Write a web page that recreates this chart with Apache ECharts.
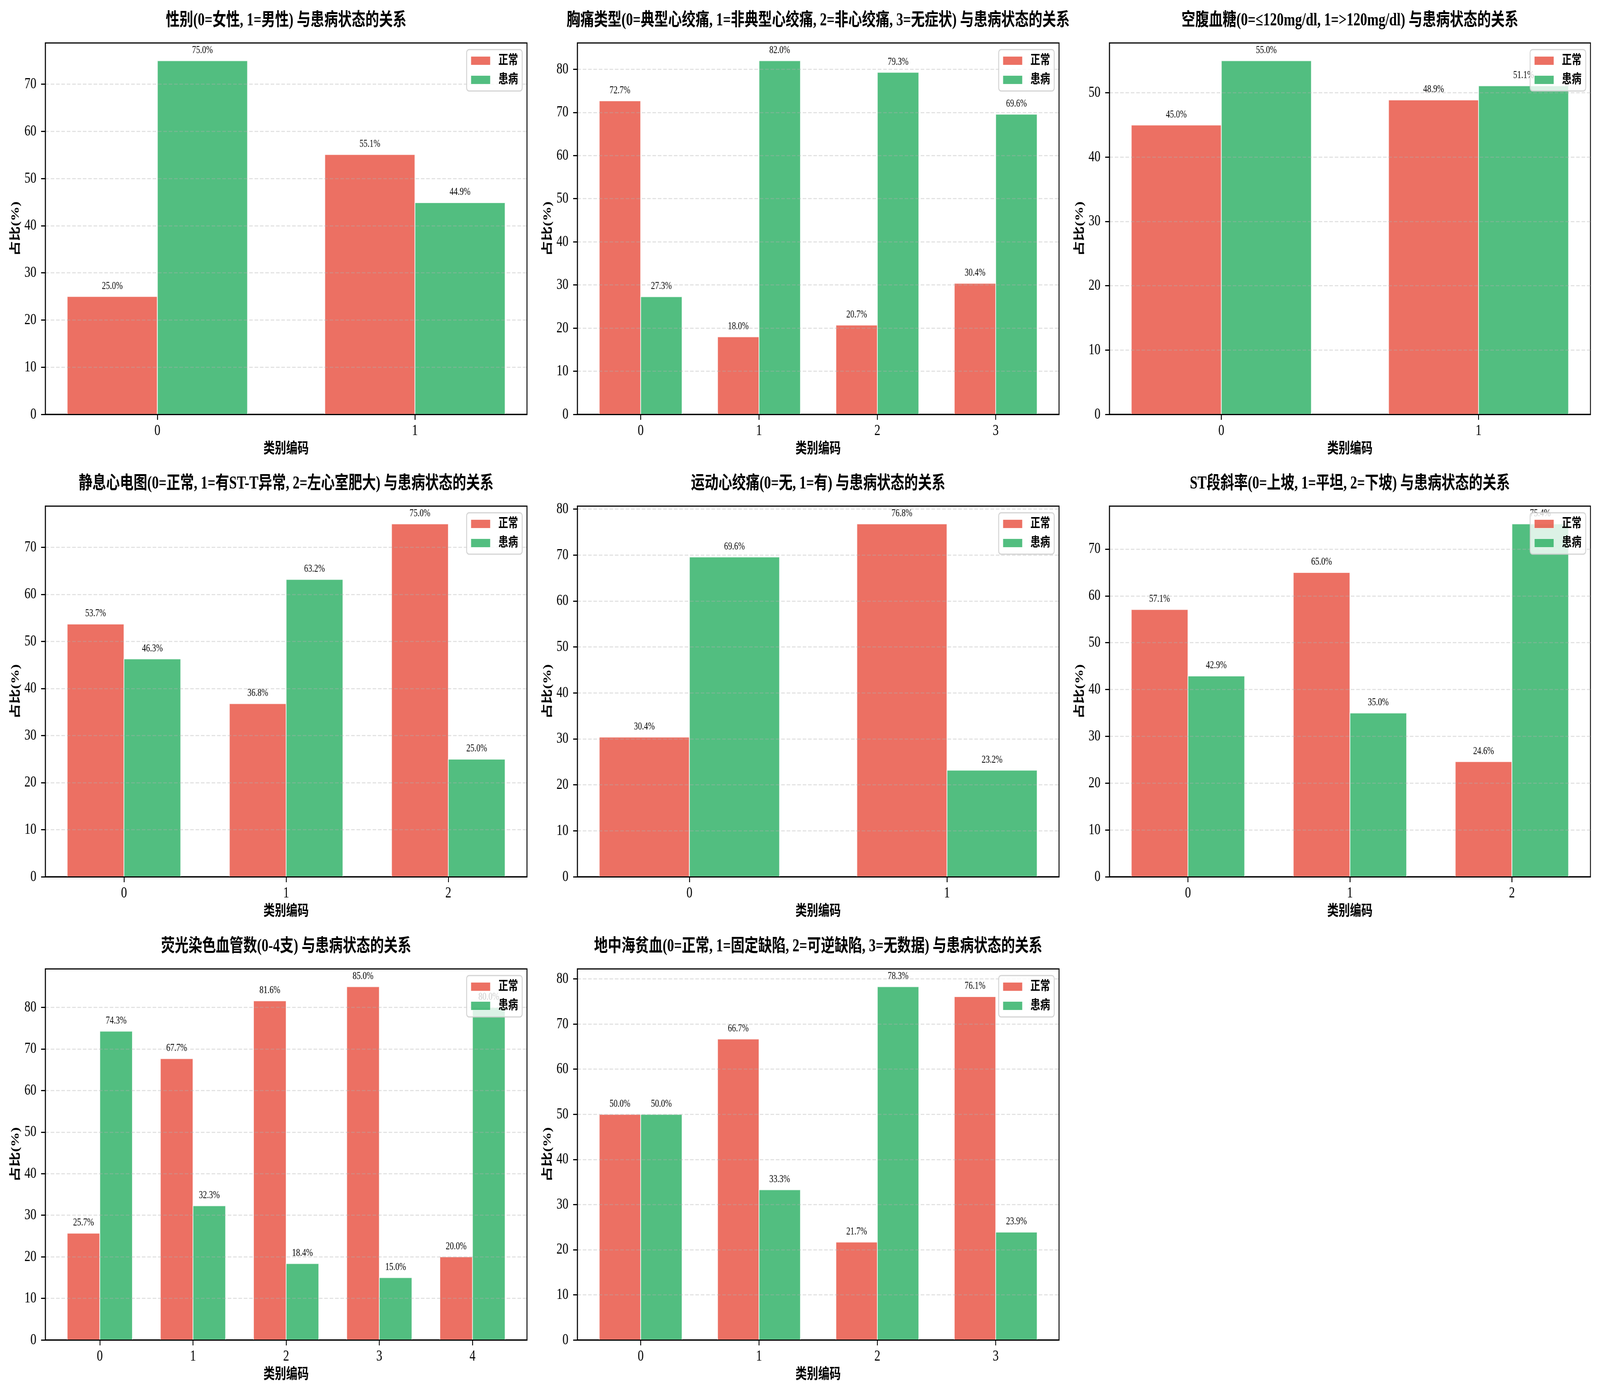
<!DOCTYPE html>
<html>
<head>
<meta charset="utf-8">
<script src="https://cdn.jsdelivr.net/npm/echarts@6/dist/echarts.min.js"></script>
<style>
html,body{margin:0;padding:0;background:#ffffff;overflow:hidden;}
#chart{width:5368px;height:3572px;transform-origin:0 0;position:absolute;left:0;top:0;}
</style>
</head>
<body>
<div id="chart"></div>
<script>
// ---------------- data ----------------
const titles = [
  '性别(0=女性, 1=男性) 与患病状态的关系',
  '胸痛类型(0=典型心绞痛, 1=非典型心绞痛, 2=非心绞痛, 3=无症状) 与患病状态的关系',
  '空腹血糖(0=≤120mg/dl, 1=>120mg/dl) 与患病状态的关系',
  '静息心电图(0=正常, 1=有ST-T异常, 2=左心室肥大) 与患病状态的关系',
  '运动心绞痛(0=无, 1=有) 与患病状态的关系',
  'ST段斜率(0=上坡, 1=平坦, 2=下坡) 与患病状态的关系',
  '荧光染色血管数(0-4支) 与患病状态的关系',
  '地中海贫血(0=正常, 1=固定缺陷, 2=可逆缺陷, 3=无数据) 与患病状态的关系'
];
const categories = [
  [0, 1],
  [0, 1, 2, 3],
  [0, 1],
  [0, 1, 2],
  [0, 1],
  [0, 1, 2],
  [0, 1, 2, 3, 4],
  [0, 1, 2, 3]
];
const normalVals = [
  [25.0, 55.1],
  [72.7, 18.0, 20.7, 30.4],
  [45.0, 48.9],
  [53.7, 36.8, 75.0],
  [30.4, 76.8],
  [57.1, 65.0, 24.6],
  [25.7, 67.7, 81.6, 85.0, 20.0],
  [50.0, 66.7, 21.7, 76.1]
];
const diseaseVals = [
  [75.0, 44.9],
  [27.3, 82.0, 79.3, 69.6],
  [55.0, 51.1],
  [46.3, 63.2, 25.0],
  [69.6, 23.2],
  [42.9, 35.0, 75.4],
  [74.3, 32.3, 18.4, 15.0, 80.0],
  [50.0, 33.3, 78.3, 23.9]
];
const yTicks = [
  [0, 10, 20, 30, 40, 50, 60, 70],
  [0, 10, 20, 30, 40, 50, 60, 70, 80],
  [0, 10, 20, 30, 40, 50],
  [0, 10, 20, 30, 40, 50, 60, 70],
  [0, 10, 20, 30, 40, 50, 60, 70, 80],
  [0, 10, 20, 30, 40, 50, 60, 70],
  [0, 10, 20, 30, 40, 50, 60, 70, 80],
  [0, 10, 20, 30, 40, 50, 60, 70, 80]
];
const seriesNames = ['正常', '患病'];
const xAxisName = '类别编码';
const yAxisName = '占比(%)';

// ---------------- layout / style (reference pixel units) ----------------
const REF_W = 5368, REF_H = 3572;
const chartEl = document.getElementById('chart');
const sx = (window.innerWidth || REF_W) / REF_W;
const sy = (window.innerHeight || REF_H) / REF_H;
chartEl.style.transform = 'scale(' + sx + ',' + sy + ')';

const colLeft = [152, 1937, 3722];
const colWidth = [1616, 1616, 1614];
const rowTop = [110, 1296, 2481];
const rowHeight = [951, 949, 950];
const BAR_W = 0.35;
const RED = 'rgba(231,76,60,0.8)';
const GREEN = 'rgba(39,174,96,0.8)';
const LATIN = '"Liberation Serif"';
const MIXED = '"Liberation Serif", "Noto Sans CJK SC"';

const chart = echarts.init(chartEl, null, {renderer: 'canvas', width: REF_W, height: REF_H});

function makeRender(isRed) {
  return function (params, api) {
    const x = api.value(0), v = api.value(1);
    const x0 = isRed ? x - BAR_W : x;
    const x1 = x0 + BAR_W;
    const p0 = api.coord([x0, v]);
    const p1 = api.coord([x1, 0]);
    const cx = (p0[0] + p1[0]) / 2;
    return {
      type: 'group',
      children: [
        {
          type: 'rect',
          shape: {x: p0[0], y: p0[1], width: p1[0] - p0[0], height: p1[1] - p0[1]},
          style: {fill: isRed ? RED : GREEN, stroke: 'rgba(255,255,255,0.85)', lineWidth: 2.5}
        },
        {
          type: 'text',
          style: {
            text: v.toFixed(1) + '%', x: cx, y: p0[1] - 13,
            align: 'center', verticalAlign: 'bottom',
            fontSize: 27, fontFamily: LATIN, fill: '#000'
          }
        }
      ]
    };
  };
}

const grids = [], xAxes = [], yAxes = [], series = [], legends = [], graphics = [];
for (let i = 0; i < titles.length; i++) {
  const r = Math.floor(i / 3), c = i % 3;
  const left = colLeft[c], width = colWidth[c], top = rowTop[r], height = rowHeight[r];
  const n = categories[i].length;
  const span = (n - 1) + 2 * BAR_W;
  const xmin = -BAR_W - 0.05 * span;
  const xmax = (n - 1) + BAR_W + 0.05 * span;
  const vmax = Math.max(...normalVals[i], ...diseaseVals[i]) * 1.05;

  grids.push({left: left, top: top, width: width, height: height, show: true,
    borderColor: '#000', borderWidth: 3, backgroundColor: 'transparent', containLabel: false});

  xAxes.push({
    type: 'value', gridIndex: i, min: xmin, max: xmax, z: 3,
    name: xAxisName, nameLocation: 'middle', nameGap: 70,
    nameTextStyle: {fontSize: 38, fontWeight: 'bold', fontFamily: MIXED, color: '#000'},
    axisLine: {show: true, onZero: false, lineStyle: {color: '#000', width: 3}},
    axisTick: {show: true, length: 14, lineStyle: {color: '#000', width: 3}, customValues: categories[i]},
    axisLabel: {show: true, fontSize: 40, fontFamily: LATIN, color: '#000', margin: 22,
      customValues: categories[i], formatter: v => String(v)},
    splitLine: {show: false}
  });

  yAxes.push({
    type: 'value', gridIndex: i, min: 0, max: vmax, interval: 10, z: 3,
    name: yAxisName, nameLocation: 'middle', nameGap: 80,
    nameTextStyle: {fontSize: 38, fontWeight: 'bold', fontFamily: MIXED, color: '#000'},
    axisLine: {show: true, onZero: false, lineStyle: {color: '#000', width: 3}},
    axisTick: {show: true, length: 14, lineStyle: {color: '#000', width: 3}, customValues: yTicks[i]},
    axisLabel: {show: true, fontSize: 40, fontFamily: LATIN, color: '#000', margin: 30,
      customValues: yTicks[i], formatter: v => String(v)},
    splitLine: {show: true, lineStyle: {color: 'rgba(176,176,176,0.35)', width: 3, type: [12, 6]}}
  });

  series.push({
    type: 'custom', name: seriesNames[0], xAxisIndex: i, yAxisIndex: i,
    renderItem: makeRender(true), itemStyle: {color: RED},
    data: categories[i].map((k, j) => [k, normalVals[i][j]]), z: 2
  });
  series.push({
    type: 'custom', name: seriesNames[1], xAxisIndex: i, yAxisIndex: i,
    renderItem: makeRender(false), itemStyle: {color: GREEN},
    data: categories[i].map((k, j) => [k, diseaseVals[i][j]]), z: 2
  });

  legends.push({
    orient: 'vertical', right: REF_W - (left + width - 16), top: top + 17,
    data: [
      {name: seriesNames[0], icon: 'rect', itemStyle: {color: RED, borderColor: 'rgba(255,255,255,0.8)', borderWidth: 1}},
      {name: seriesNames[1], icon: 'rect', itemStyle: {color: GREEN, borderColor: 'rgba(255,255,255,0.8)', borderWidth: 1}}
    ],
    itemWidth: 65, itemHeight: 22, itemGap: 16,
    padding: [12, 14, 12, 14],
    backgroundColor: 'rgba(255,255,255,0.8)',
    borderColor: 'rgba(204,204,204,0.85)', borderWidth: 3, borderRadius: 8,
    textStyle: {fontSize: 33, fontWeight: 'bold', fontFamily: MIXED, color: '#000', padding: [0, 0, 0, 22]},
    selectedMode: false, z: 10
  });

  graphics.push({
    type: 'text', x: left + width / 2, y: top - 57, z: 10,
    style: {
      text: titles[i], x: 0, y: 0,
      align: 'center', verticalAlign: 'middle',
      fontSize: 46, fontWeight: 'bold', fontFamily: MIXED, fill: '#000'
    }
  });
}

chart.setOption({
  backgroundColor: '#ffffff',
  animation: false,
  grid: grids,
  xAxis: xAxes,
  yAxis: yAxes,
  legend: legends,
  series: series,
  graphic: {elements: graphics}
});
</script>
</body>
</html>
